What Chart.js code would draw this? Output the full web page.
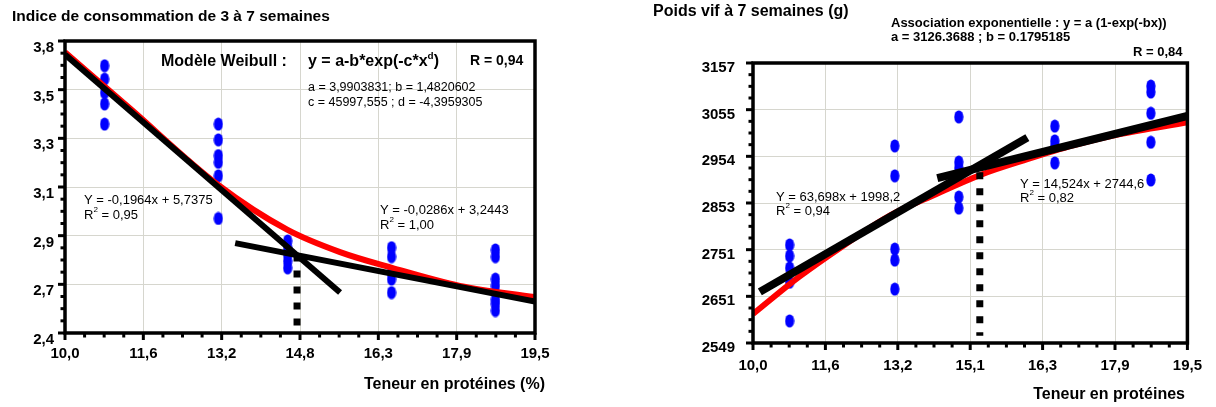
<!DOCTYPE html>
<html>
<head>
<meta charset="utf-8">
<script src="https://cdn.jsdelivr.net/npm/chart.js@4"></script>
<style>
  body { margin: 0; background: #fff; }
  .panel { position: absolute; top: 0; width: 608px; height: 407px; }
</style>
</head>
<body>
<div class="panel" style="left:0"><canvas id="indice" width="608" height="407"></canvas></div>
<div class="panel" style="left:608px"><canvas id="poids" width="608" height="407"></canvas></div>
<script>
// ---- data ----
const proteinLevels = [10.8, 13.1, 14.5, 16.6, 18.7];

// left: indice de consommation
const indiceTicksX = ['10,0', '11,6', '13,2', '14,8', '16,3', '17,9', '19,5'];
const indiceTicksY = ['2,4', '2,7', '2,9', '3,1', '3,3', '3,5', '3,8'];
const indiceObs = [
  [3.64, 3.58, 3.52, 3.47, 3.38],
  [3.38, 3.31, 3.24, 3.21, 3.15, 2.96],
  [2.86, 2.83, 2.80, 2.77, 2.74],
  [2.83, 2.79, 2.72, 2.69, 2.63],
  [2.82, 2.79, 2.69, 2.66, 2.60, 2.58, 2.55]
];
const weibullX = [10, 11.31, 13.09, 14.49, 15.56, 16.61, 17.98, 19.5];
const weibullY = [3.70, 3.45, 3.11, 2.91, 2.81, 2.74, 2.66, 2.61];
const indiceFit1X = [10, 15.56];
const indiceFit1Y = [3.69, 2.63];
const indiceFit2X = [13.44, 19.5];
const indiceFit2Y = [2.85, 2.59];
const indiceBreakX = [14.69, 14.69];
const indiceBreakY = [2.80, 2.45];

// right: poids vif
const poidsTicksX = ['10,0', '11,6', '13,2', '15,1', '16,3', '17,9', '19,5'];
const poidsTicksY = ['2549', '2651', '2751', '2853', '2954', '3055', '3157'];
const poidsObs = [
  [2762, 2738, 2712, 2681, 2597],
  [2977, 2912, 2753, 2729, 2666],
  [3040, 2942, 2929, 2866, 2842],
  [3020, 2988, 2977, 2940],
  [3107, 3094, 3048, 2985, 2903]
];
const expoX = [10, 11, 12, 13, 14, 15, 16, 17, 18, 19.5];
const expoY = [2612, 2692, 2762, 2826, 2872, 2915, 2948, 2978, 3002, 3028];
const poidsFit1X = [10.15, 16.0];
const poidsFit1Y = [2660, 2995];
const poidsFit2X = [14.03, 19.5];
const poidsFit2Y = [2907, 3042];
const poidsBreakX = [14.96, 14.96];
const poidsBreakY = [2920, 2565];

const FONT = "'Liberation Sans', Arial, sans-serif";

function toPoints(xs, ys) {
  return xs.map((x, i) => ({ x: x, y: ys[i] }));
}
function obsPoints(groups) {
  const pts = [];
  groups.forEach((g, i) => g.forEach(v => pts.push({ x: proteinLevels[i], y: v })));
  return pts;
}

function blueDot() {
  const c = document.createElement('canvas');
  c.width = 10; c.height = 14;
  const g = c.getContext('2d');
  g.fillStyle = '#0000ff';
  g.beginPath();
  g.ellipse(5, 7, 4.6, 6.6, 0, 0, Math.PI * 2);
  g.fill();
  return c;
}
const dot = blueDot();

function seg(ctx, x1, y1, x2, y2) {
  ctx.beginPath(); ctx.moveTo(x1, y1); ctx.lineTo(x2, y2); ctx.stroke();
}

// box round the plot + major / minor ticks
const framePlugin = {
  id: 'frame',
  afterDatasetsDraw(chart) {
    const { ctx, chartArea: a, scales } = chart;
    const x = scales.x, y = scales.y;
    ctx.save();
    ctx.strokeStyle = '#000';
    ctx.lineWidth = 3.5;
    ctx.strokeRect(a.left, a.top, a.right - a.left, a.bottom - a.top);
    ctx.lineWidth = 3;
    const xt = x.ticks.map(t => t.value);
    xt.forEach((v, i) => {
      const px = x.getPixelForValue(v);
      seg(ctx, px, a.bottom, px, a.bottom + 7);
      if (i < xt.length - 1) {
        for (let k = 1; k < 4; k++) {
          const m = x.getPixelForValue(v + (xt[i + 1] - v) * k / 4);
          seg(ctx, m, a.bottom, m, a.bottom + 4.5);
        }
      }
    });
    const yt = y.ticks.map(t => t.value);
    yt.forEach((v, i) => {
      const py = y.getPixelForValue(v);
      seg(ctx, a.left, py, a.left - 7, py);
      if (i < yt.length - 1) {
        for (let k = 1; k < 4; k++) {
          const m = y.getPixelForValue(v + (yt[i + 1] - v) * k / 4);
          seg(ctx, a.left, m, a.left - 4.5, m);
        }
      }
    });
    ctx.restore();
  }
};

// free text on the canvas
const notesPlugin = {
  id: 'notes',
  afterDraw(chart, args, opts) {
    const ctx = chart.ctx;
    ctx.save();
    ctx.fillStyle = '#000';
    ctx.textBaseline = 'middle';
    (opts.items || []).forEach(n => {
      const size = n.size || 13;
      const weight = n.bold ? 'bold ' : '';
      let cx = n.x;
      if (n.align === 'right') {
        ctx.font = weight + size + 'px ' + FONT;
        ctx.textAlign = 'right';
        ctx.fillText(n.text, n.x, n.y);
        return;
      }
      ctx.textAlign = 'left';
      const parts = n.parts || [{ t: n.text }];
      parts.forEach(p => {
        const s = p.sup ? size * 0.62 : size;
        ctx.font = weight + s + 'px ' + FONT;
        ctx.fillText(p.t, cx, p.sup ? n.y - size * 0.38 : n.y);
        cx += ctx.measureText(p.t).width;
      });
    });
    ctx.restore();
  }
};

function makeChart(id, cfg) {
  const tickFont = { family: FONT, size: 15, weight: 'bold' };
  const evenTicks = (labels) => (scale) => {
    const n = labels.length - 1;
    scale.ticks = labels.map((_, i) => ({ value: scale.min + (scale.max - scale.min) * i / n }));
  };
  return new Chart(document.getElementById(id), {
    type: 'scatter',
    data: {
      datasets: [
        { type: 'line', data: toPoints(cfg.fit1X, cfg.fit1Y), borderColor: '#000', borderWidth: cfg.blackWidth, pointRadius: 0, order: 0 },
        { type: 'line', data: toPoints(cfg.fit2X, cfg.fit2Y), borderColor: '#000', borderWidth: cfg.blackWidth, pointRadius: 0, order: 0 },
        { type: 'line', data: toPoints(cfg.breakX, cfg.breakY), borderColor: '#000', borderWidth: 7, borderDash: [7, 9], borderCapStyle: 'butt', pointRadius: 0, order: 1 },
        { type: 'line', data: toPoints(cfg.curveX, cfg.curveY), borderColor: '#ff0000', borderWidth: 6, cubicInterpolationMode: 'monotone', pointRadius: 0, order: 2 },
        { data: obsPoints(cfg.obs), pointStyle: dot, pointRadius: 5, order: 3 }
      ]
    },
    options: {
      responsive: false,
      animation: false,
      layout: { padding: cfg.padding },
      plugins: { legend: { display: false }, tooltip: { enabled: false }, notes: { items: cfg.notes } },
      scales: {
        x: {
          type: 'linear', min: 10, max: 19.5,
          afterBuildTicks: evenTicks(cfg.ticksX),
          afterFit: (s) => { s.height = cfg.xHeight; },
          ticks: { font: tickFont, color: '#000', padding: cfg.xPad, maxRotation: 0, autoSkip: false,
                   callback: (v, i) => cfg.ticksX[i] },
          grid: { color: '#d6d6ce', lineWidth: 1, drawTicks: false },
          border: { display: false }
        },
        y: {
          type: 'linear', min: cfg.yMin, max: cfg.yMax,
          afterBuildTicks: evenTicks(cfg.ticksY),
          afterFit: (s) => { s.width = cfg.yWidth; },
          ticks: { font: tickFont, color: '#000', padding: cfg.yPad, labelOffset: cfg.yOffset, autoSkip: false,
                   callback: (v, i) => cfg.ticksY[i] },
          grid: { color: '#d6d6ce', lineWidth: 1, drawTicks: false },
          border: { display: false }
        }
      }
    },
    plugins: [framePlugin, notesPlugin]
  });
}

makeChart('indice', {
  obs: indiceObs, curveX: weibullX, curveY: weibullY,
  fit1X: indiceFit1X, fit1Y: indiceFit1Y, fit2X: indiceFit2X, fit2Y: indiceFit2Y,
  breakX: indiceBreakX, breakY: indiceBreakY,
  ticksX: indiceTicksX, ticksY: indiceTicksY, yMin: 2.45, yMax: 3.75,
  padding: { top: 41, right: 73, left: 0, bottom: 0 },
  xHeight: 74, yWidth: 65, xPad: 12, yPad: 11, yOffset: 7, blackWidth: 6,
  notes: [
    { text: 'Indice de consommation de 3 à 7 semaines', x: 12, y: 17, size: 15.5, bold: true },
    { text: 'Modèle Weibull :', x: 161, y: 62, size: 16, bold: true },
    { parts: [{ t: 'y = a-b*exp(-c*x' }, { t: 'd', sup: true }, { t: ')' }], x: 308, y: 62, size: 16, bold: true },
    { text: 'R = 0,94', x: 470, y: 61, size: 14, bold: true },
    { text: 'a = 3,9903831; b = 1,4820602', x: 308, y: 88, size: 12.5 },
    { text: 'c = 45997,555 ; d = -4,3959305', x: 308, y: 103, size: 12.5 },
    { text: 'Y = -0,1964x + 5,7375', x: 84, y: 200, size: 13 },
    { parts: [{ t: 'R' }, { t: '2', sup: true }, { t: ' = 0,95' }], x: 84, y: 215, size: 13 },
    { text: 'Y = -0,0286x + 3,2443', x: 380, y: 210, size: 13 },
    { parts: [{ t: 'R' }, { t: '2', sup: true }, { t: ' = 1,00' }], x: 380, y: 225, size: 13 },
    { text: 'Teneur en protéines (%)', x: 545, y: 385, size: 16, bold: true, align: 'right' }
  ]
});

makeChart('poids', {
  obs: poidsObs, curveX: expoX, curveY: expoY,
  fit1X: poidsFit1X, fit1Y: poidsFit1Y, fit2X: poidsFit2X, fit2Y: poidsFit2Y,
  breakX: poidsBreakX, breakY: poidsBreakY,
  ticksX: poidsTicksX, ticksY: poidsTicksY, yMin: 2549, yMax: 3157,
  padding: { top: 63, right: 24, left: 0, bottom: 0 },
  xHeight: 64, yWidth: 145, xPad: 14, yPad: 18, yOffset: 5, blackWidth: 8,
  notes: [
    { text: 'Poids vif à 7 semaines (g)', x: 45, y: 12, size: 16, bold: true },
    { text: 'Association exponentielle : y = a (1-exp(-bx))', x: 283, y: 23, size: 13, bold: true },
    { text: 'a = 3126.3688 ; b = 0.1795185', x: 283, y: 37, size: 13, bold: true },
    { text: 'R = 0,84', x: 525, y: 52, size: 13, bold: true },
    { text: 'Y = 63,698x + 1998,2', x: 168, y: 197, size: 13 },
    { parts: [{ t: 'R' }, { t: '2', sup: true }, { t: ' = 0,94' }], x: 168, y: 211, size: 13 },
    { text: 'Y = 14,524x + 2744,6', x: 412, y: 184, size: 13 },
    { parts: [{ t: 'R' }, { t: '2', sup: true }, { t: ' = 0,82' }], x: 412, y: 198, size: 13 },
    { text: 'Teneur en protéines', x: 577, y: 395, size: 16, bold: true, align: 'right' }
  ]
});
</script>
</body>
</html>
